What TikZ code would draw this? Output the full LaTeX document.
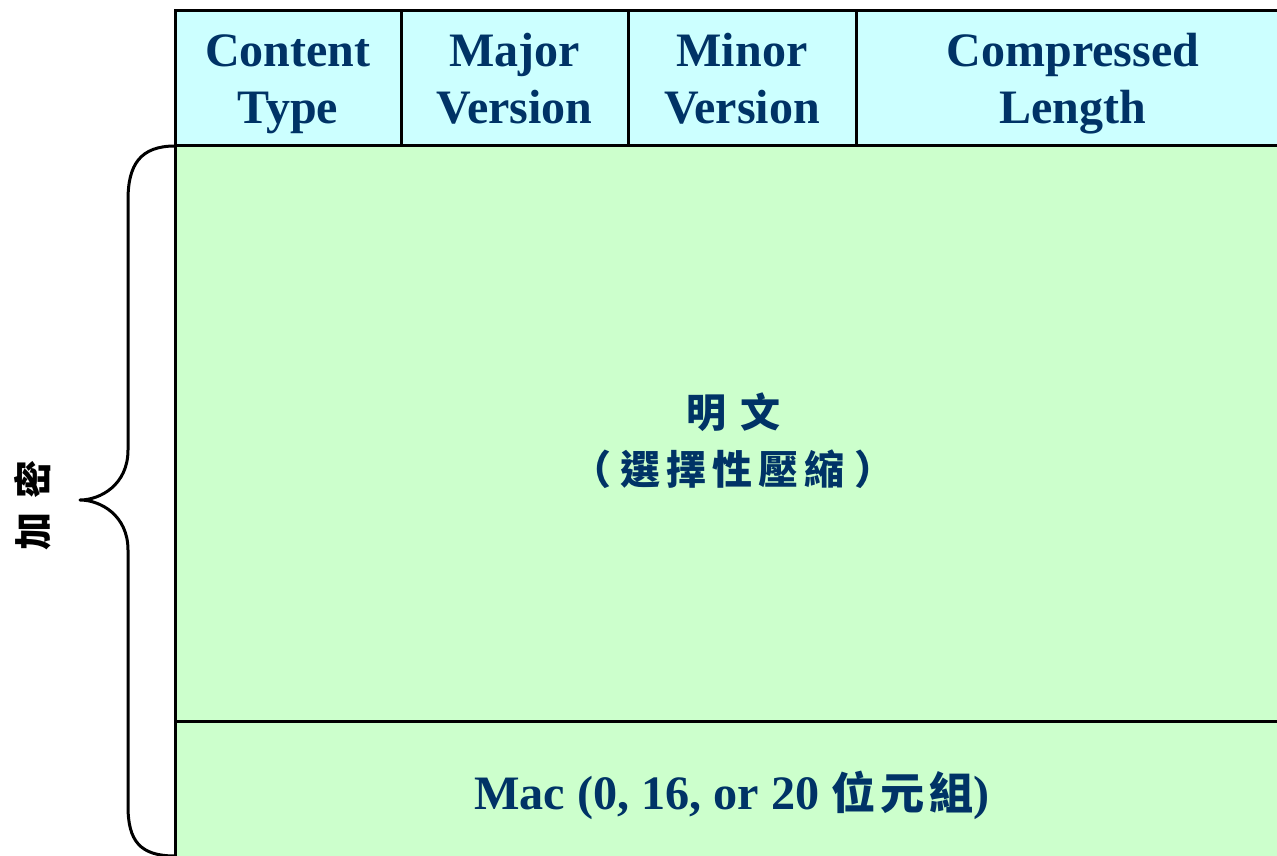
\documentclass[tikz,border=0pt]{standalone}
\usepackage{fontspec}
\usepackage{graphicx}
\setmainfont{Liberation Serif}
\newfontfamily\cjk{Noto Sans CJK TC}
\definecolor{hdrfill}{HTML}{CCFFFF}
\definecolor{bodyfill}{HTML}{CCFFCC}
\definecolor{txt}{HTML}{003366}
\newcommand{\hl}[1]{\vphantom{Tjy}#1}
\begin{document}
\begin{tikzpicture}[x=1pt,y=-1pt,
  cell/.style={draw=black, line width=3pt, inner sep=0pt},
  hdr/.style={cell, fill=hdrfill, minimum height=135pt},
  bodycell/.style={cell, fill=bodyfill},
  hdrtext/.style={inner sep=0pt, align=center, text=txt, font=\fontsize{48}{57}\selectfont\bfseries},
  cjktext/.style={inner sep=0pt, align=center, text=txt, font=\fontsize{40}{57}\selectfont\cjk\bfseries},
  brace/.style={draw=black, line width=3pt, line cap=round, line join=round}
]
\useasboundingbox (0,0) rectangle (1277,856);
\clip (0,0) rectangle (1277,856);
% header cells
\node[hdr, minimum width=226pt] (ct)  at (288,78.5)  {};
\node[hdr, minimum width=227pt] (maj) at (514.5,78.5) {};
\node[hdr, minimum width=228pt] (min) at (742,78.5)  {};
\node[hdr, minimum width=434pt] (cl)  at (1073,78.5) {};
% body cells
\node[bodycell, minimum width=1115pt, minimum height=575pt] (body) at (732.5,433.5) {};
\node[bodycell, minimum width=1115pt, minimum height=149pt] (mac) at (732.5,795.5) {};
% header texts
\node[hdrtext] (ctt)  at (288,84)   {\hl{Content}\\\hl{Type}};
\node[hdrtext] (majt) at (514.5,84) {\hl{Major}\\\hl{Version}};
\node[hdrtext] (mint) at (742,84)   {\hl{Minor}\\\hl{Version}};
\node[hdrtext] (clt)  at (1073,84)  {\hl{Compressed}\\\hl{Length}};
% body text
\node[cjktext] (bodyt) at (733,441)
  {明\hspace{14pt}文\\（\hspace{10pt}選\hspace{6pt}擇\hspace{6pt}性\hspace{6pt}壓\hspace{6pt}縮\hspace{10pt}）};
% mac text
\node[inner sep=0pt, text=txt] (mact) at (732,795)
  {\resizebox{516pt}{\height}{\fontsize{48}{50}\selectfont\bfseries Mac (0, 16, or 20 {\cjk\fontsize{44}{50}\selectfont 位\hspace{5pt}元\hspace{5pt}組})}};
% brace
\coordinate (btop) at (175,146);
\coordinate (bbot) at (175,856);
\coordinate (btip) at (80,500);
\draw[brace] (btop) .. controls (140,146) and (128,165) .. (128,200) -- (128,450)
  .. controls (128,485) and (100,500) .. (btip)
  .. controls (100,500) and (128,515) .. (128,550) -- (128,806)
  .. controls (128,841) and (140,856) .. (bbot);
\node[rotate=90, text=black, inner sep=0pt, font=\fontsize{38}{40}\selectfont\cjk\bfseries] (enc) at (33,505) {加\hspace{14pt}密};
\end{tikzpicture}
\end{document}
